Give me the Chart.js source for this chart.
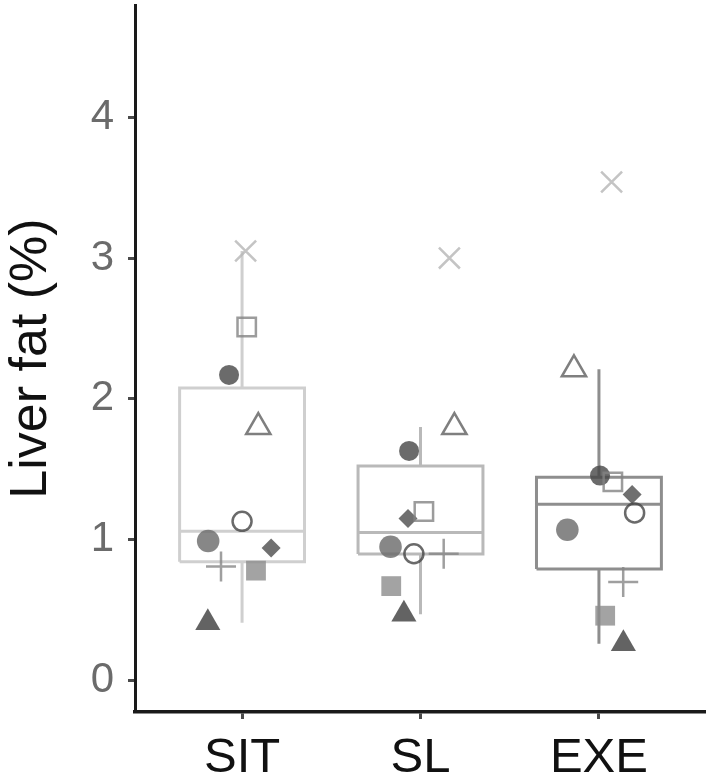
<!DOCTYPE html>
<html>
<head>
<meta charset="utf-8">
<script src="https://cdn.jsdelivr.net/npm/chart.js@4/dist/chart.umd.min.js"></script>
<style>
  html, body { margin: 0; padding: 0; background: #ffffff; }
  #wrap { width: 706px; height: 783px; }
</style>
</head>
<body>
<div id="wrap"><canvas id="chart" width="706" height="783"></canvas></div>
<script>
// Groups and axis ticks
const categories = ['SIT', 'SL', 'EXE'];
const yTicks = [0, 1, 2, 3, 4];

// Liver fat (%) per participant, one entry per participant in the same order
const sitValues = [3.05, 2.51, 2.17, 1.80, 1.13, 0.99, 0.94, 0.81, 0.78, 0.41];
const slValues  = [3.00, 1.20, 1.63, 1.80, 0.90, 0.95, 1.15, 0.90, 0.67, 0.47];
const exeValues = [3.54, 1.41, 1.455, 2.21, 1.19, 1.07, 1.32, 0.70, 0.46, 0.26];

// Horizontal jitter of each participant within its group
const sitJitter = [0.02, 0.026, -0.073, 0.091, 0.0, -0.19, 0.163, -0.118, 0.078, -0.192];
const slJitter  = [0.162, 0.019, -0.064, 0.19, -0.037, -0.168, -0.07, 0.13, -0.164, -0.093];
const exeJitter = [0.071, 0.078, 0.006, -0.14, 0.2, -0.177, 0.186, 0.136, 0.035, 0.137];

// Box-plot summary per group
const boxMin    = [0.41, 0.47, 0.26];
const boxQ1     = [0.8425, 0.898, 0.792];
const boxMedian = [1.06, 1.051, 1.252];
const boxQ3     = [2.0775, 1.5235, 1.4425];
const boxMax    = [3.05, 1.80, 2.21];

// Marker look for each participant
const markerStyles = [
  { style: 'crossRot', r: 14.8, fill: false, color: 'rgba(181,181,181,0.8)' },
  { style: 'rect',     r: 13,   fill: false, color: 'rgba(131,131,131,0.8)' },
  { style: 'circle',   r: 10,   fill: true,  color: 'rgba(70,70,70,0.8)' },
  { style: 'triangle', r: 14,   fill: false, color: 'rgba(95,95,95,0.8)' },
  { style: 'circle',   r: 9.5,  fill: false, color: 'rgba(69,69,69,0.8)' },
  { style: 'circle',   r: 11.3, fill: true,  color: 'rgba(105,105,105,0.8)' },
  { style: 'rectRot',  r: 9.5,  fill: true,  color: 'rgba(76,76,76,0.8)' },
  { style: 'cross',    r: 15,   fill: false, color: 'rgba(135,135,135,0.8)' },
  { style: 'rect',     r: 14,   fill: true,  color: 'rgba(140,140,140,0.8)' },
  { style: 'triangle', r: 14.5, fill: true,  color: 'rgba(60,60,60,0.8)' }
];
const boxColors = ['#cfcfcf', '#b9b9b9', '#8e8e8e'];
const boxHalfWidth = 0.35;

const FONT = "'Liberation Sans', Arial, Helvetica, sans-serif";

// One line dataset per box: outline, median and both whiskers (nulls break the path)
const boxDatasets = categories.map((c, i) => {
  const x0 = i - boxHalfWidth, x1 = i + boxHalfWidth;
  return {
    type: 'line',
    label: c + ' box',
    data: [
      { x: x0, y: boxQ1[i] }, { x: x0, y: boxQ3[i] }, { x: x1, y: boxQ3[i] },
      { x: x1, y: boxQ1[i] }, { x: x0, y: boxQ1[i] }, { x: x0, y: null },
      { x: x0, y: boxMedian[i] }, { x: x1, y: boxMedian[i] }, { x: x1, y: null },
      { x: i, y: boxQ3[i] }, { x: i, y: boxMax[i] }, { x: i, y: null },
      { x: i, y: boxQ1[i] }, { x: i, y: boxMin[i] }
    ],
    borderColor: boxColors[i],
    borderWidth: 3,
    pointRadius: 0,
    fill: false,
    spanGaps: false,
    tension: 0,
    borderJoinStyle: 'miter',
    order: 2
  };
});

const groupValues = [sitValues, slValues, exeValues];
const groupJitter = [sitJitter, slJitter, exeJitter];

const pointDatasets = markerStyles.map((m, p) => ({
  type: 'scatter',
  label: 'P' + (p + 1),
  data: categories.map((c, g) => ({ x: g + groupJitter[g][p], y: groupValues[g][p] })),
  pointStyle: m.style,
  pointRadius: m.r,
  pointHoverRadius: m.r,
  pointBorderWidth: m.fill ? 0 : 2.5,
  pointBorderColor: m.color,
  pointBackgroundColor: m.fill ? m.color : 'rgba(0,0,0,0)',
  showLine: false,
  order: 1
}));

// Keep the plot area flush with the axis boxes (no extra room for edge labels)
function noEdgePadding(scale) {
  scale.paddingLeft = 0;
  scale.paddingRight = 0;
  scale.paddingTop = 0;
  scale.paddingBottom = 0;
}

new Chart(document.getElementById('chart'), {
  type: 'scatter',
  data: { datasets: [...pointDatasets, ...boxDatasets] },
  options: {
    responsive: false,
    animation: false,
    layout: { autoPadding: false, padding: { top: 5, right: 0, left: 0, bottom: 0 } },
    plugins: { legend: { display: false }, tooltip: { enabled: false } },
    scales: {
      x: {
        type: 'linear',
        min: -0.6,
        max: 2.6,
        afterBuildTicks: (scale) => { scale.ticks = categories.map((c, i) => ({ value: i })); },
        afterFit: (scale) => { scale.height = 71; noEdgePadding(scale); },
        ticks: {
          callback: (v) => categories[v],
          color: '#111111',
          font: { family: FONT, size: 49 },
          padding: 10,
          maxRotation: 0
        },
        grid: { display: true, drawOnChartArea: false, drawTicks: true, tickLength: 7, tickWidth: 3, tickColor: '#4a4a4a' },
        border: { display: true, color: '#1a1a1a', width: 3.5 }
      },
      y: {
        min: -0.224,
        max: 4.797,
        afterBuildTicks: (scale) => { scale.ticks = yTicks.map(v => ({ value: v })); },
        afterFit: (scale) => { scale.width = 135; noEdgePadding(scale); },
        ticks: {
          color: '#6b6b6b',
          font: { family: FONT, size: 42 },
          padding: 14
        },
        grid: { display: true, drawOnChartArea: false, drawTicks: true, tickLength: 7, tickWidth: 3, tickColor: '#4a4a4a' },
        border: { display: true, color: '#1a1a1a', width: 3 },
        title: {
          display: true,
          text: 'Liver fat (%)',
          color: '#111111',
          font: { family: FONT, size: 52 },
          padding: { top: 0, bottom: 0 }
        }
      }
    }
  }
});
</script>
</body>
</html>
